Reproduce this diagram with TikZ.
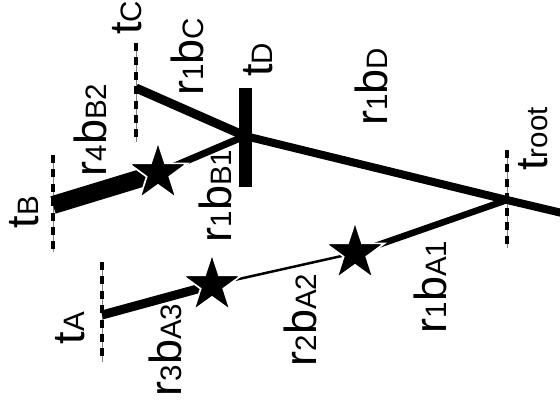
\documentclass[tikz,border=0pt]{standalone}
\usepackage{fontspec}
\setmainfont{Liberation Sans}
\usetikzlibrary{shapes.geometric}
\newcommand{\lsub}[1]{{\fontsize{21}{21}\selectfont #1}}
\begin{document}
\begin{tikzpicture}[x=0.025cm,y=-0.025cm,
  lbl/.style={rotate=90, inner sep=0pt, font=\fontsize{32}{32}\selectfont},
  tickbase/.style={gray, line width=0.6pt},
  tickdash/.style={black, line width=0.11cm, dash pattern=on 0.2cm off 0.16cm},
  mark star/.style={star, star points=5, star point ratio=2.6, fill=black, draw=white, line width=1.2pt, minimum size=1.55cm, inner sep=0pt}]
\useasboundingbox (0,0) rectangle (560,401);
\coordinate (C) at (136,88);
\coordinate (D) at (245,136);
\coordinate (R) at (507,200);
\coordinate (E) at (562,213);
\coordinate (B) at (53,205);
\coordinate (A) at (102,315);
\coordinate (Dtop) at (245,88);
\coordinate (Dbot) at (245,187);
\coordinate (Ct) at (136,43);
\coordinate (Cb) at (136,142);
\coordinate (Bt) at (53,155);
\coordinate (Bb) at (53,252);
\coordinate (At) at (102,262);
\coordinate (Ab) at (102,362);
\coordinate (Rt) at (507,150);
\coordinate (Rb) at (507,248);
\foreach \p in {C,B,A,R} {
  \draw[tickbase] (\p t) -- (\p b);
  \draw[tickdash] (\p t) -- (\p b);
}
\coordinate (sB) at (158,173);
\coordinate (sA3) at (212,285);
\coordinate (sA2) at (355,253);
\draw[line width=0.225cm] (C) -- (D);
\draw[line width=0.2cm] (D) -- (R) -- (E);
\draw[line width=0.45cm] (B) -- (sB);
\draw[line width=0.175cm] (sB) -- (D);
\draw[line width=0.225cm] (A) -- (sA3);
\draw[line width=0.0625cm] (sA3) -- (sA2);
\draw[line width=0.1625cm] (sA2) -- (R);
\draw[line width=0.325cm] (Dtop) -- (Dbot);
\node[mark star] (starB) at (sB) {};
\node[mark star] (starA3) at (sA3) {};
\node[mark star] (starA2) at (sA2) {};
\node[lbl] (labtC) at (127,18) {t\lsub{C}};
\node[lbl] (labC) at (187,57) {r\lsub{1}b\lsub{C}};
\node[lbl] (labtD) at (258,60) {t\lsub{D}};
\node[lbl] (labD) at (371,87) {r\lsub{1}b\lsub{D}};
\node[lbl] (labB2) at (90,130) {r\lsub{4}b\lsub{B2}};
\node[lbl] (labB1) at (215,196) {r\lsub{1}b\lsub{B1}};
\node[lbl] (labtB) at (24,212) {t\lsub{B}};
\node[lbl] (labtR) at (533,139) {t\lsub{root}};
\node[lbl] (labtA) at (70,328) {t\lsub{A}};
\node[lbl] (labA3) at (165,350) {r\lsub{3}b\lsub{A3}};
\node[lbl] (labA2) at (300,320) {r\lsub{2}b\lsub{A2}};
\node[lbl] (labA1) at (430,287) {r\lsub{1}b\lsub{A1}};
\end{tikzpicture}
\end{document}
